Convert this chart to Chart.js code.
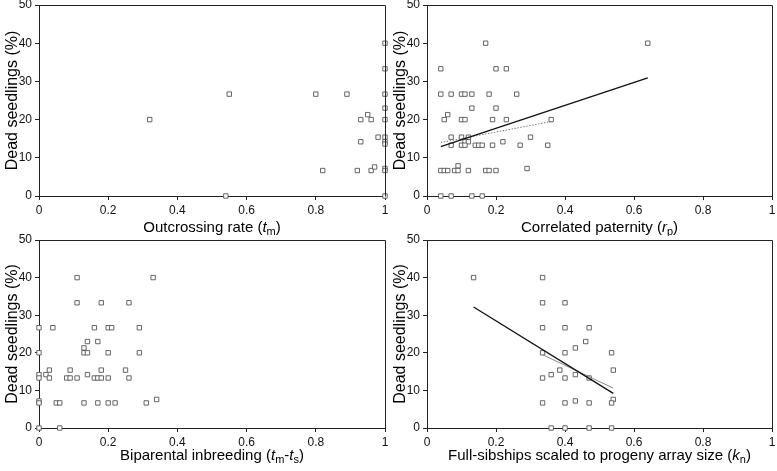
<!DOCTYPE html>
<html>
<head>
<meta charset="utf-8">
<script src="https://cdn.jsdelivr.net/npm/chart.js@4"></script>
<style>
  body { margin: 0; background: #fff; }
  #wrap { position: relative; width: 777px; height: 471px; }
  .cv { position: absolute; }
</style>
</head>
<body>
<div id="wrap">
  <div class="cv" style="left:0;top:0;width:390px;height:236px"><canvas id="c1"></canvas></div>
  <div class="cv" style="left:388px;top:0;width:389px;height:236px"><canvas id="c2"></canvas></div>
  <div class="cv" style="left:0;top:226px;width:390px;height:245px"><canvas id="c3"></canvas></div>
  <div class="cv" style="left:388px;top:226px;width:389px;height:245px"><canvas id="c4"></canvas></div>
</div>
<script>
// outcrossing rate tm vs dead seedlings
const tmX = [0.32, 0.55, 0.54, 0.80, 0.89, 0.95, 0.93, 0.96, 0.98, 0.93, 0.82, 0.92, 0.96, 0.97,
             1, 1, 1, 1, 1, 1, 1, 1, 1, 1, 1];
const tmY = [20, 26.67, 0, 26.67, 26.67, 21.3, 20, 20, 15.4, 14.2, 6.67, 6.67, 6.67, 7.6,
             40, 33.3, 26.67, 23, 20, 15.4, 14.2, 13.6, 7.2, 6.67, 0];

// correlated paternity rp
const rpX = [0.04, 0.04, 0.07, 0.10, 0.11, 0.13, 0.18, 0.26, 0.17, 0.64, 0.20, 0.23,
             0.06, 0.05, 0.10, 0.11, 0.19, 0.23, 0.36, 0.13, 0.20,
             0.07, 0.10, 0.12, 0.30, 0.11, 0.12, 0.22,
             0.07, 0.10, 0.11, 0.14, 0.15, 0.16, 0.19, 0.27, 0.35,
             0.09, 0.29, 0.04, 0.05, 0.06, 0.08, 0.09, 0.12, 0.17, 0.18, 0.20,
             0.04, 0.07, 0.13, 0.16];
const rpY = [33.3, 26.67, 26.67, 26.67, 26.67, 26.67, 26.67, 26.67, 40, 40, 33.3, 33.3,
             21.3, 20, 20, 20, 20, 20, 20, 23, 23,
             15.4, 15.4, 15.4, 15.4, 14.2, 14.2, 14.2,
             13.3, 13.3, 13.3, 13.3, 13.3, 13.3, 13.3, 13.3, 13.3,
             7.9, 7.2, 6.67, 6.67, 6.67, 6.67, 6.67, 6.67, 6.67, 6.67, 6.67,
             0, 0, 0, 0];
const rpFitX = [0.04, 0.64];
const rpFitY = [12.9, 30.9];
const rpFit2X = [0.04, 0.36];
const rpFit2Y = [14.0, 19.5];

// biparental inbreeding tm-ts
const biX = [0.11, 0.33, 0.11, 0.18, 0.26,
             0, 0.04, 0.16, 0.20, 0.21, 0.29,
             0.14, 0.17, 0.13,
             0, 0.13, 0.14, 0.20, 0.29,
             0.03, 0.09, 0.18, 0.25,
             0, 0.02, 0.14,
             0, 0.03, 0.08, 0.09, 0.11, 0.16, 0.17, 0.18, 0.20, 0.26,
             0.34, 0,
             0, 0.05, 0.06, 0.13, 0.17, 0.20, 0.22, 0.31,
             0, 0.06];
const biY = [40, 40, 33.3, 33.3, 33.3,
             26.67, 26.67, 26.67, 26.67, 26.67, 26.67,
             23, 23, 21.3,
             20, 20, 20, 20, 20,
             15.4, 15.4, 15.4, 15.4,
             14.2, 14.2, 14.2,
             13.3, 13.3, 13.3, 13.3, 13.3, 13.3, 13.3, 13.3, 13.3, 13.3,
             7.6, 7.2,
             6.67, 6.67, 6.67, 6.67, 6.67, 6.67, 6.67, 6.67,
             0, 0];

// full-sibships kn
const knX = [0.135, 0.335, 0.335, 0.40, 0.335, 0.40, 0.47, 0.46, 0.43,
             0.335, 0.40, 0.535, 0.385, 0.54, 0.36, 0.43, 0.335, 0.40, 0.47,
             0.54, 0.43, 0.335, 0.40, 0.47, 0.535,
             0.36, 0.40, 0.47, 0.535];
const knY = [40, 40, 33.3, 33.3, 26.67, 26.67, 26.67, 23, 21.3,
             20, 20, 20, 15.4, 15.4, 14.2, 14.2, 13.3, 13.3, 13.3,
             7.6, 7.2, 6.67, 6.67, 6.67, 6.67,
             0, 0, 0, 0];
const knFitX = [0.135, 0.54];
const knFitY = [32.2, 9.2];
const knFit2X = [0.335, 0.54];
const knFit2Y = [19.5, 10.6];

const xTicks = [0, 0.2, 0.4, 0.6, 0.8, 1];
const yTicks = [0, 10, 20, 30, 40, 50];

const FONT = "'Liberation Sans', Arial, Helvetica, sans-serif";

function pts(xs, ys) { return xs.map((x, i) => ({ x: x, y: ys[i] })); }

// draws the x title with italic + subscript parts, and the frame
const framePlugin = {
  id: 'frame',
  afterDraw(chart, args, opts) {
    const ctx = chart.ctx, a = chart.chartArea;
    ctx.save();
    ctx.strokeStyle = '#222';
    ctx.lineWidth = 1;
    ctx.beginPath();
    ctx.moveTo(Math.round(a.left) + 0.5, Math.round(a.top) + 0.5);
    ctx.lineTo(Math.round(a.right) + 0.5, Math.round(a.top) + 0.5);
    ctx.lineTo(Math.round(a.right) + 0.5, Math.round(a.bottom) + 0.5);
    ctx.stroke();
    // x title
    const parts = opts.parts;
    const fs = 15;
    let w = 0;
    const fontOf = p => (p.i ? 'italic ' : '') + (p.s ? 11 : fs) + 'px ' + FONT;
    parts.forEach(p => { ctx.font = fontOf(p); w += ctx.measureText(p.t).width; });
    let x = (a.left + a.right) / 2 - w / 2;
    ctx.fillStyle = '#000';
    ctx.textBaseline = 'alphabetic';
    ctx.textAlign = 'left';
    parts.forEach(p => {
      ctx.font = fontOf(p);
      ctx.fillText(p.t, x, opts.y + (p.s ? 3 : 0));
      x += ctx.measureText(p.t).width;
    });
    ctx.restore();
  }
};

function makeChart(id, datasets, parts, o) {
  new Chart(document.getElementById(id), {
    type: 'scatter',
    data: { datasets: datasets },
    plugins: [framePlugin],
    options: {
      responsive: true,
      maintainAspectRatio: false,
      animation: false,
      layout: { padding: { top: o.top, right: 5, left: 0, bottom: 0 } },
      plugins: {
        legend: { display: false },
        tooltip: { enabled: false },
        frame: { parts: parts, y: o.titleY }
      },
      scales: {
        x: {
          type: 'linear', min: 0, max: 1,
          afterBuildTicks: s => { s.ticks = xTicks.map(v => ({ value: v })); },
          afterFit: s => { s.height = o.xh; s.paddingRight = 0; s.paddingLeft = 0; },
          grid: { drawOnChartArea: false, drawTicks: true, tickLength: 4, color: '#222' },
          border: { color: '#222', width: 1 },
          ticks: {
            color: '#111', font: { family: FONT, size: 12 }, padding: 3, maxRotation: 0,
            callback: v => String(v)
          }
        },
        y: {
          min: 0, max: 50,
          afterBuildTicks: s => { s.ticks = yTicks.map(v => ({ value: v })); },
          afterFit: s => { s.width = 39; s.paddingTop = 0; s.paddingBottom = 0; },
          grid: { drawOnChartArea: false, drawTicks: true, tickLength: 4, color: '#222' },
          border: { color: '#222', width: 1 },
          ticks: { color: '#111', font: { family: FONT, size: 12 }, padding: 3, callback: v => String(v) },
          title: {
            display: true, text: 'Dead seedlings (%)', color: '#000',
            font: { family: FONT, size: 16 }, padding: { top: 3, bottom: 0 }
          }
        }
      }
    }
  });
}

function scatterSet(xs, ys) {
  return {
    data: pts(xs, ys), pointStyle: 'rect', pointRadius: 3.1,
    borderColor: '#555', borderWidth: 0.9, backgroundColor: '#fff', clip: false
  };
}
function lineSet(xs, ys, color, width, dash) {
  return {
    type: 'line', data: pts(xs, ys), borderColor: color, borderWidth: width,
    borderDash: dash, pointRadius: 0, fill: false
  };
}

makeChart('c1', [scatterSet(tmX, tmY)],
  [{ t: 'Outcrossing rate (' }, { t: 't', i: true }, { t: 'm', s: true }, { t: ')' }],
  { top: 5, xh: 40, titleY: 232 });

makeChart('c2', [
    lineSet(rpFitX, rpFitY, '#111', 1.3, []),
    lineSet(rpFit2X, rpFit2Y, '#777', 1, [1.5, 1.5]),
    scatterSet(rpX, rpY)],
  [{ t: 'Correlated paternity (' }, { t: 'r', i: true }, { t: 'p', s: true }, { t: ')' }],
  { top: 5, xh: 40, titleY: 232 });

makeChart('c3', [scatterSet(biX, biY)],
  [{ t: 'Biparental inbreeding (' }, { t: 't', i: true }, { t: 'm', s: true }, { t: '-' },
   { t: 't', i: true }, { t: 's', s: true }, { t: ')' }],
  { top: 14, xh: 43, titleY: 234 });

makeChart('c4', [
    lineSet(knFitX, knFitY, '#111', 1.3, []),
    lineSet(knFit2X, knFit2Y, '#888', 1, []),
    scatterSet(knX, knY)],
  [{ t: 'Full-sibships scaled to progeny array size (' }, { t: 'k', i: true }, { t: 'n', s: true }, { t: ')' }],
  { top: 14, xh: 43, titleY: 234 });
</script>
</body>
</html>
